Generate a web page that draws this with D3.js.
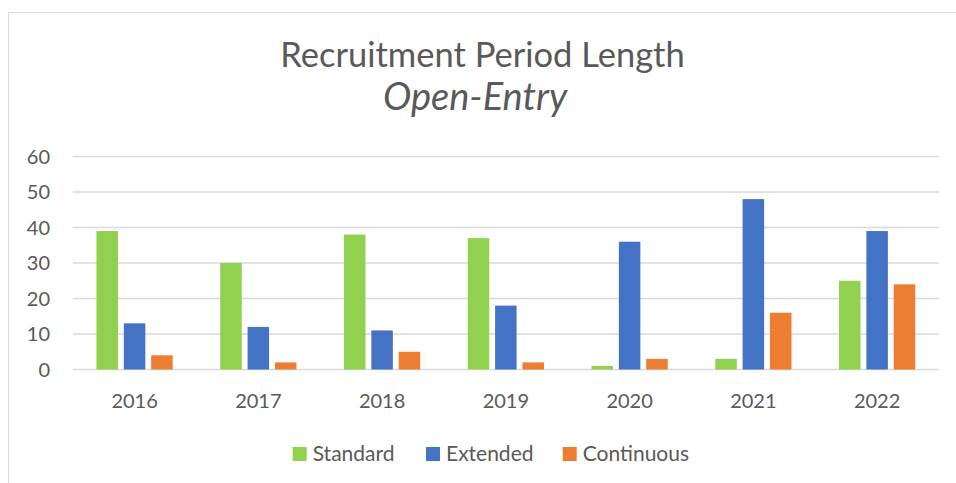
<!DOCTYPE html>
<html>
<head>
<meta charset="utf-8">
<script src="https://cdn.jsdelivr.net/npm/d3@7"></script>
<style>
  body { margin: 0; background: #fff; }
  text { font-family: Lato, "Open Sans", sans-serif; fill: #595959; }
</style>
</head>
<body>
<div id="wrapper"></div>
<script>
const years = ["2016", "2017", "2018", "2019", "2020", "2021", "2022"];
const seriesNames = ["Standard", "Extended", "Continuous"];
const standard = [39, 30, 38, 37, 1, 3, 25];
const extended = [13, 12, 11, 18, 36, 48, 39];
const continuous = [4, 2, 5, 2, 3, 16, 24];
const yTicks = [0, 10, 20, 30, 40, 50, 60];
const colors = ["#92D050", "#4472C4", "#ED7D31"];

const width = 956;
const height = 483;

const rows = years.map((year, i) => ({
  year: year,
  values: [standard[i], extended[i], continuous[i]]
}));

const svg = d3.select("#wrapper")
  .append("svg")
  .attr("width", width)
  .attr("height", height);

// chart frame
svg.append("rect")
  .attr("x", 8.5)
  .attr("y", 12.5)
  .attr("width", 1000)
  .attr("height", 1000)
  .attr("fill", "none")
  .attr("stroke", "#d9d9d9")
  .attr("stroke-width", 1);

const x0 = d3.scaleBand()
  .domain(years)
  .range([72.7, 939])
  .paddingInner(0.384)
  .paddingOuter(0.192);

const x1 = d3.scaleBand()
  .domain(seriesNames)
  .range([0, x0.bandwidth()])
  .paddingInner(0.214);

const y = d3.scaleLinear()
  .domain([0, 60])
  .range([369.5, 156.5]);

// gridlines
svg.append("g")
  .selectAll("line")
  .data(yTicks)
  .join("line")
  .attr("x1", 72.7)
  .attr("x2", 939)
  .attr("y1", d => y(d))
  .attr("y2", d => y(d))
  .attr("stroke", "#d9d9d9")
  .attr("stroke-width", 1.5);

// y labels
svg.append("g")
  .selectAll("text")
  .data(yTicks)
  .join("text")
  .attr("x", 50)
  .attr("y", d => y(d))
  .attr("dy", "0.35em")
  .attr("text-anchor", "end")
  .attr("font-size", 20)
  .text(d => d);

// bars
const groups = svg.append("g")
  .selectAll("g")
  .data(rows)
  .join("g")
  .attr("transform", d => `translate(${x0(d.year)},0)`);

groups.selectAll("rect")
  .data(d => d.values.map((v, i) => ({ name: seriesNames[i], value: v, color: colors[i] })))
  .join("rect")
  .attr("x", d => x1(d.name))
  .attr("width", x1.bandwidth())
  .attr("y", d => y(d.value))
  .attr("height", d => y(0) - y(d.value))
  .attr("fill", d => d.color);

// x labels
svg.append("g")
  .selectAll("text")
  .data(years)
  .join("text")
  .attr("x", d => x0(d) + x0.bandwidth() / 2)
  .attr("y", 408)
  .attr("text-anchor", "middle")
  .attr("font-size", 20)
  .text(d => d);

// title
svg.append("text")
  .attr("x", 482.5)
  .attr("y", 67)
  .attr("text-anchor", "middle")
  .attr("font-size", 34.5)
  .text("Recruitment Period Length");

svg.append("text")
  .attr("x", 475)
  .attr("y", 110)
  .attr("text-anchor", "middle")
  .attr("font-size", 38)
  .attr("font-style", "italic")
  .text("Open-Entry");

// legend
const legendX = [292.7, 426, 562.7];
const legend = svg.append("g")
  .selectAll("g")
  .data(seriesNames)
  .join("g")
  .attr("transform", (d, i) => `translate(${legendX[i]}, 447)`);

legend.append("rect")
  .attr("width", 14)
  .attr("height", 14)
  .attr("fill", (d, i) => colors[i]);

legend.append("text")
  .attr("x", 20)
  .attr("y", 14)
  .attr("font-size", 21)
  .text(d => d);
</script>
</body>
</html>
